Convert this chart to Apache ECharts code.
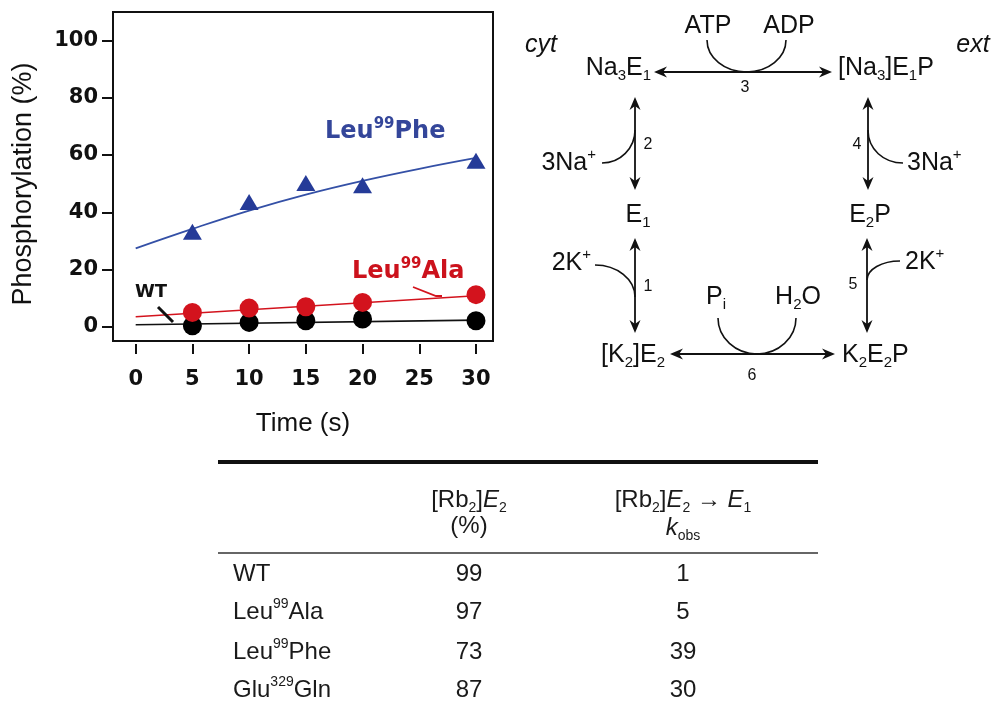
<!DOCTYPE html>
<html>
<head>
<meta charset="utf-8">
<script src="https://cdn.jsdelivr.net/npm/echarts@6.0.0/dist/echarts.min.js"></script>
<style>
html, body { margin: 0; padding: 0; background: #ffffff; }
#main { width: 992px; height: 709px; }
</style>
</head>
<body>
<div id="main"></div>
<script>
// 测量时间点 (s)
var timePoints = [5, 10, 15, 20, 30];
var wtValues = [0.3, 1.5, 2.1, 2.7, 2.1];
var alaValues = [5.0, 6.5, 7.0, 8.5, 11.2];
var pheValues = [33.2, 43.6, 50.2, 49.4, 58.0];
// 拟合曲线
var lineTimes = [0, 30];
var wtFit = [0.7, 2.3];
var alaFit = [3.5, 10.8];
var pheFitTimes = [0, 5, 10, 15, 20, 25, 30];
var pheFit = [27.4, 34.2, 40.6, 46.2, 51.0, 55.2, 59.0];
// 刻度
var xTicks = [0, 5, 10, 15, 20, 25, 30];
var yTicks = [0, 20, 40, 60, 80, 100];
// 表格
var tableRows = ['{n|WT}', '{n|Leu}{u|99}{n|Ala}', '{n|Leu}{u|99}{n|Phe}', '{n|Glu}{u|329}{n|Gln}'];
var rb2e2Percent = [99, 97, 73, 87];
var kObs = [1, 5, 39, 30];

var SANS = '"Liberation Sans", Arial, Helvetica, sans-serif';
var BOLD = '"DejaVu Sans", "Liberation Sans", sans-serif';
var BLUE = '#253b98';
var RED = '#d3131d';
var INK = '#111111';

function zip(xs, ys) {
  var out = [];
  for (var i = 0; i < xs.length; i++) out.push([xs[i], ys[i]]);
  return out;
}

// 富文本样式: n 正文, i 斜体, s 下标, u 上标
function richSet(family, size, small, color, weight) {
  return {
    n: { fontFamily: family, fontSize: size, fontWeight: weight, fill: color, lineHeight: size + 6 },
    i: { fontFamily: family, fontSize: size, fontWeight: weight, fontStyle: 'italic', fill: color, lineHeight: size + 6 },
    s: { fontFamily: family, fontSize: small, fontWeight: weight, fill: color, lineHeight: small, verticalAlign: 'bottom' },
    u: { fontFamily: family, fontSize: small, fontWeight: weight, fill: color, lineHeight: small, verticalAlign: 'top' }
  };
}

function txt(x, y, text, rich, align, rotation) {
  return {
    type: 'text', x: x, y: y, rotation: rotation || 0, silent: true, z: 10,
    style: {
      text: text, rich: rich,
      align: align || 'center', textAlign: align || 'center',
      verticalAlign: 'middle', textVerticalAlign: 'middle'
    }
  };
}

function num(x, y, s) {
  return {
    type: 'text', x: x, y: y, silent: true, z: 10,
    style: {
      text: s, font: '16px ' + SANS, fill: INK,
      align: 'center', textAlign: 'center', verticalAlign: 'middle', textVerticalAlign: 'middle'
    }
  };
}

function seg(x1, y1, x2, y2, w, color) {
  return { type: 'line', silent: true, z: 10, shape: { x1: x1, y1: y1, x2: x2, y2: y2 }, style: { stroke: color || INK, lineWidth: w || 1.6 } };
}

// 三次贝塞尔曲线
function bez(x1, y1, c1x, c1y, c2x, c2y, x2, y2) {
  return {
    type: 'bezierCurve', silent: true, z: 10,
    shape: { x1: x1, y1: y1, cpx1: c1x, cpy1: c1y, cpx2: c2x, cpy2: c2y, x2: x2, y2: y2 },
    style: { fill: null, stroke: INK, lineWidth: 1.6 }
  };
}

function head(tx, ty, dx, dy) {
  var L = 13, W = 5.5, N = 9;
  var px = -dy, py = dx;
  return {
    type: 'polygon', silent: true, z: 10,
    shape: { points: [[tx, ty], [tx - dx * L + px * W, ty - dy * L + py * W], [tx - dx * N, ty - dy * N], [tx - dx * L - px * W, ty - dy * L - py * W]] },
    style: { fill: INK }
  };
}

// 双向箭头
function biArrow(x1, y1, x2, y2) {
  var len = Math.sqrt((x2 - x1) * (x2 - x1) + (y2 - y1) * (y2 - y1));
  var dx = (x2 - x1) / len, dy = (y2 - y1) / len;
  return [seg(x1 + dx * 6, y1 + dy * 6, x2 - dx * 6, y2 - dy * 6, 1.8), head(x2, y2, dx, dy), head(x1, y1, -dx, -dy)];
}

var R = richSet(SANS, 25, 15, INK, 'normal');
var RT = richSet(SANS, 24, 14, '#1a1a1a', 'normal');
var RB = richSet(BOLD, 24, 15, '#34469a', 'bold');
var RR = richSet(BOLD, 24, 15, '#cc121c', 'bold');
var RK = richSet(BOLD, 18, 12, INK, 'bold');
var RY = richSet(SANS, 27, 16, INK, 'normal');

var graphics = [];

// 图中标注
graphics.push(txt(24, 184, '{n|Phosphorylation (%)}', RY, 'center', Math.PI / 2));
graphics.push(txt(325, 132, '{n|Leu}{u|99}{n|Phe}', RB, 'left'));
graphics.push(txt(352, 272, '{n|Leu}{u|99}{n|Ala}', RR, 'left'));
graphics.push(txt(135, 292, '{n|WT}', RK, 'left'));
graphics.push(seg(158, 307, 173, 322, 3, INK));
graphics.push({ type: 'polyline', silent: true, z: 10, shape: { points: [[413, 287], [436, 296], [442, 296]] }, style: { fill: null, stroke: RED, lineWidth: 1.8 } });

// 反应循环示意图
graphics.push(txt(541, 45, '{i|cyt}', R));
graphics.push(txt(973, 45, '{i|ext}', R));
graphics.push(txt(708, 26, '{n|ATP}', R));
graphics.push(txt(789, 26, '{n|ADP}', R));
graphics.push(txt(651, 68, '{n|Na}{s|3}{n|E}{s|1}', R, 'right'));
graphics.push(txt(838, 68, '{n|[Na}{s|3}{n|]E}{s|1}{n|P}', R, 'left'));
graphics.push(num(745, 88, '3'));
graphics.push(num(648, 145, '2'));
graphics.push(txt(596, 163, '{n|3Na}{u|+}', R, 'right'));
graphics.push(num(857, 145, '4'));
graphics.push(txt(907, 163, '{n|3Na}{u|+}', R, 'left'));
graphics.push(txt(638, 215, '{n|E}{s|1}', R));
graphics.push(txt(870, 215, '{n|E}{s|2}{n|P}', R));
graphics.push(txt(591, 263, '{n|2K}{u|+}', R, 'right'));
graphics.push(num(648, 287, '1'));
graphics.push(txt(905, 262, '{n|2K}{u|+}', R, 'left'));
graphics.push(num(853, 285, '5'));
graphics.push(txt(716, 297, '{n|P}{s|i}', R));
graphics.push(txt(798, 297, '{n|H}{s|2}{n|O}', R));
graphics.push(txt(665, 355, '{n|[K}{s|2}{n|]E}{s|2}', R, 'right'));
graphics.push(txt(842, 355, '{n|K}{s|2}{n|E}{s|2}{n|P}', R, 'left'));
graphics.push(num(752, 376, '6'));

graphics = graphics.concat(
  biArrow(654, 72, 832, 72),
  biArrow(635, 97, 635, 190),
  biArrow(868, 97, 868, 190),
  biArrow(635, 238, 635, 333),
  biArrow(867, 238, 867, 333),
  biArrow(670, 354, 835, 354)
);
graphics.push(bez(707, 40, 707, 57.7, 724.7, 72, 746.5, 72));
graphics.push(bez(746.5, 72, 768.3, 72, 786, 57.7, 786, 40));
graphics.push(bez(602, 163, 620.2, 163, 635, 148.2, 635, 130));
graphics.push(bez(868, 130, 868, 149.3, 883.7, 163, 903, 163));
graphics.push(bez(595, 265, 617.1, 265, 635, 279.3, 635, 297));
graphics.push(bez(867, 280, 867, 269.5, 881.8, 261, 900, 261));
graphics.push(bez(718, 318, 718, 337.9, 735.5, 354, 757, 354));
graphics.push(bez(757, 354, 778.5, 354, 796, 337.9, 796, 318));

// 表格
graphics.push(seg(218, 462, 818, 462, 4, '#111'));
graphics.push(seg(218, 553, 818, 553, 2, '#666'));
graphics.push(txt(469, 500, '{n|[Rb}{s|2}{n|]}{i|E}{s|2}', RT));
graphics.push(txt(469, 526, '{n|(%)}', RT));
graphics.push(txt(683, 500, '{n|[Rb}{s|2}{n|]}{i|E}{s|2}{n| \u2192 }{i|E}{s|1}', RT));
graphics.push(txt(683, 528, '{i|k}{s|obs}', RT));
var rowY = [574, 612, 652, 690];
for (var r = 0; r < tableRows.length; r++) {
  graphics.push(txt(233, rowY[r], tableRows[r], RT, 'left'));
  graphics.push(txt(469, rowY[r], '{n|' + rb2e2Percent[r] + '}', RT));
  graphics.push(txt(683, rowY[r], '{n|' + kObs[r] + '}', RT));
}

var myChart = echarts.init(document.getElementById('main'));
var chartOptions = {
  backgroundColor: '#ffffff',
  animation: false,
  grid: {
    left: 113, top: 12, width: 380, height: 329,
    show: true, borderColor: INK, borderWidth: 2, backgroundColor: 'transparent',
    outerBoundsMode: 'none'
  },
  xAxis: {
    type: 'value', min: -2, max: 31.5, offset: 3,
    axisLine: { show: false, onZero: false },
    axisTick: { show: true, customValues: xTicks, length: 10, lineStyle: { color: INK, width: 2 } },
    axisLabel: { customValues: xTicks, margin: 25, fontFamily: BOLD, fontWeight: 'bold', fontSize: 21, color: INK },
    splitLine: { show: false },
    name: 'Time (s)', nameLocation: 'middle', nameGap: 67,
    nameTextStyle: { fontFamily: SANS, fontSize: 26, color: INK }
  },
  yAxis: {
    type: 'value', min: -5, max: 110,
    axisLine: { show: false, onZero: false },
    axisTick: { show: true, customValues: yTicks, length: 11, lineStyle: { color: INK, width: 2 } },
    axisLabel: { customValues: yTicks, margin: 15, fontFamily: BOLD, fontWeight: 'bold', fontSize: 21, color: INK },
    splitLine: { show: false }
  },
  series: [
    { name: 'WT fit', type: 'line', data: zip(lineTimes, wtFit), showSymbol: false, lineStyle: { color: INK, width: 1.6 }, z: 2 },
    { name: 'Leu99Ala fit', type: 'line', data: zip(lineTimes, alaFit), showSymbol: false, lineStyle: { color: RED, width: 1.6 }, z: 2 },
    { name: 'Leu99Phe fit', type: 'line', data: zip(pheFitTimes, pheFit), smooth: 0.4, showSymbol: false, lineStyle: { color: '#3450a6', width: 1.8 }, z: 2 },
    { name: 'WT', type: 'scatter', data: zip(timePoints, wtValues), symbol: 'circle', symbolSize: 19, itemStyle: { color: '#000000', opacity: 1 }, z: 3 },
    { name: 'Leu99Ala', type: 'scatter', data: zip(timePoints, alaValues), symbol: 'circle', symbolSize: 19, itemStyle: { color: RED, opacity: 1 }, z: 3 },
    { name: 'Leu99Phe', type: 'scatter', data: zip(timePoints, pheValues), symbol: 'triangle', symbolSize: [19, 16], itemStyle: { color: BLUE, opacity: 1 }, z: 3 }
  ],
  graphic: { elements: graphics }
};
myChart.setOption(chartOptions);
window.onresize = function () {
  myChart.resize();
};
</script>
</body>
</html>
